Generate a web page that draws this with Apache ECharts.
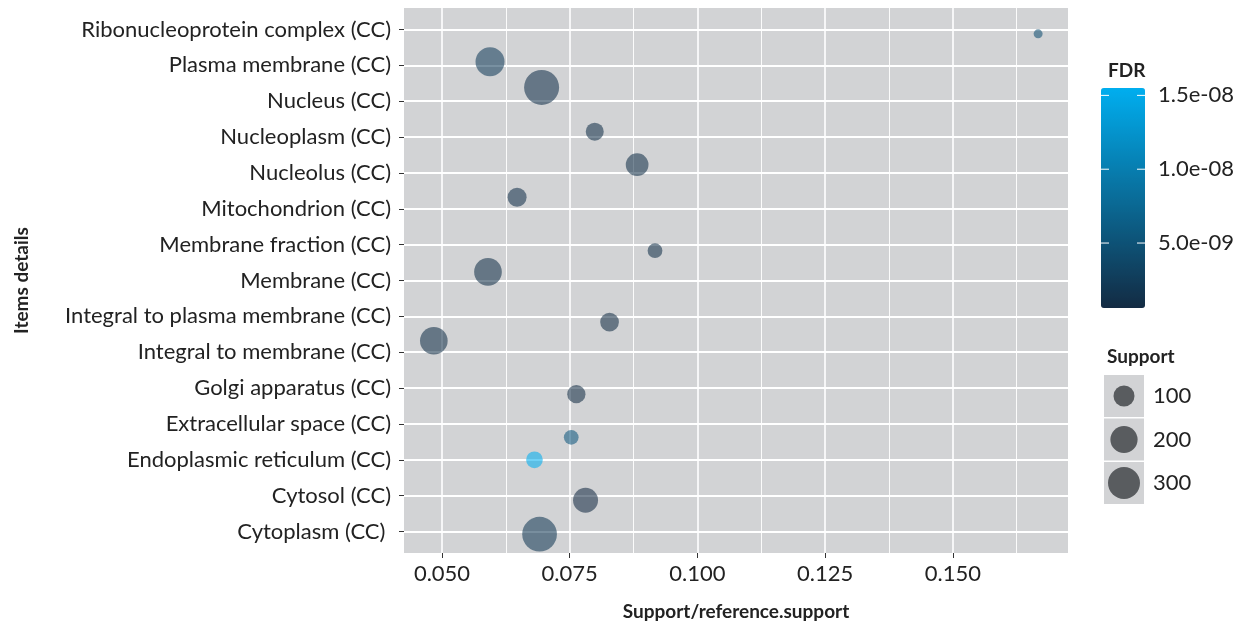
<!DOCTYPE html>
<html>
<head>
<meta charset="utf-8">
<script src="https://cdn.jsdelivr.net/npm/echarts@6/dist/echarts.min.js"></script>
<style>
  html, body { margin: 0; padding: 0; background: #fff; }
  #main { width: 1235px; height: 626px; }
</style>
</head>
<body>
<div id="main"></div>
<script>
// categories, bottom to top
const categories = [
    'Cytoplasm (CC) ', 'Cytosol (CC)', 'Endoplasmic reticulum (CC)', 'Extracellular space (CC)',
    'Golgi apparatus (CC)', 'Integral to membrane (CC)', 'Integral to plasma membrane (CC)',
    'Membrane (CC)', 'Membrane fraction (CC)', 'Mitochondrion (CC)', 'Nucleolus (CC)',
    'Nucleoplasm (CC)', 'Nucleus (CC)', 'Plasma membrane (CC)', 'Ribonucleoprotein complex (CC)'
]
// support / reference.support
const ratio = [0.0691, 0.0781, 0.0681, 0.0753, 0.0763, 0.0484, 0.0828, 0.0590, 0.0917, 0.0647, 0.0882, 0.0799, 0.0695, 0.0594, 0.1667]
// vertical jitter of each point (category units)
const jitter = [-0.075, -0.13, 0.0, -0.375, -0.17, 0.32, -0.16, 0.24, -0.17, 0.32, 0.23, 0.15, 0.385, 0.10, -0.12]
const support = [366, 160, 51, 34, 67, 209, 72, 209, 34, 75, 124, 64, 374, 235, 4]
const fdr = [2.2e-9, 0.6e-9, 1.55e-8, 5.5e-9, 0.8e-9, 1.0e-9, 0.8e-9, 1.0e-9, 1.0e-9, 1.2e-9, 1.0e-9, 1.0e-9, 1.2e-9, 2.5e-9, 4.5e-9]

const xTicks = [0.05, 0.075, 0.1, 0.125, 0.15]
const xMinorTicks = [0.0625, 0.0875, 0.1125, 0.1375, 0.1625]
const fdrTicks = [5e-9, 1e-8, 1.5e-8]
const fdrTickLabels = ['5.0e-09', '1.0e-08', '1.5e-08']
const sizeKeys = [100, 200, 300]

const FONT = 'Lato'
const TXT = '#222'
const fdrMin = 0.6e-9, fdrMax = 1.55e-8
const barLeft = 1101, barTop = 88, barW = 44, barH = 220

function sizeOf(s) {
    return 6 + 1.5 * Math.sqrt(s)
}

let chart = echarts.init(document.getElementById('main'))

let data = categories.map((c, i) => [ratio[i], i + 1 + jitter[i], support[i], fdr[i], c])
let yValues = categories.map((c, i) => i + 1)

// colourbar ticks + labels
let legendGraphics = []
legendGraphics.push({
    type: 'text', x: 1108, y: 71,
    style: {text: 'FDR', font: 'bold 19px ' + FONT, fill: TXT, verticalAlign: 'middle'}
})
fdrTicks.forEach((v, i) => {
    let y = barTop + barH - (v - fdrMin) / (fdrMax - fdrMin) * barH
    legendGraphics.push({type: 'line', shape: {x1: barLeft, y1: y, x2: barLeft + 8, y2: y}, style: {stroke: '#fff', lineWidth: 1}, z: 100})
    legendGraphics.push({type: 'line', shape: {x1: barLeft + barW - 8, y1: y, x2: barLeft + barW, y2: y}, style: {stroke: '#fff', lineWidth: 1}, z: 100})
    legendGraphics.push({
        type: 'text', x: 1158, y: y,
        style: {text: fdrTickLabels[i], font: '22px ' + FONT, fill: TXT, verticalAlign: 'middle'}
    })
})

// size legend
legendGraphics.push({
    type: 'text', x: 1107, y: 357,
    style: {text: 'Support', font: 'bold 19px ' + FONT, fill: TXT, verticalAlign: 'middle'}
})
sizeKeys.forEach((k, i) => {
    let top = 375 + i * 43.5
    legendGraphics.push({type: 'rect', shape: {x: 1104, y: top, width: 40, height: 42}, style: {fill: '#d2d3d5'}})
    legendGraphics.push({type: 'circle', shape: {cx: 1124, cy: top + 21, r: sizeOf(k) / 2}, style: {fill: '#595c5f'}})
    legendGraphics.push({
        type: 'text', x: 1153, y: top + 21,
        style: {text: String(k), font: '22px ' + FONT, fill: TXT, verticalAlign: 'middle'}
    })
})

chart.setOption({
    animation: false,
    textStyle: {fontFamily: FONT},
    grid: {
        show: true,
        left: 404, right: 167, top: 8, bottom: 73,
        backgroundColor: '#d2d3d5',
        borderWidth: 0
    },
    xAxis: [{
        type: 'value',
        min: 0.04256, max: 0.17255,
        name: 'Support/reference.support',
        nameLocation: 'middle',
        nameGap: 49,
        nameTextStyle: {fontSize: 19, fontWeight: 'bold', color: TXT, fontFamily: FONT},
        axisLine: {show: false},
        axisTick: {show: true, length: 5, customValues: xTicks, lineStyle: {color: '#333'}},
        axisLabel: {customValues: xTicks, fontSize: 22, color: TXT, margin: 10, formatter: v => v.toFixed(3)},
        splitLine: {show: true, lineStyle: {color: '#fff', width: 1.6}}
    }, {
        type: 'value',
        min: 0.04256, max: 0.17255,
        axisLine: {show: false},
        axisTick: {show: false, customValues: xMinorTicks},
        axisLabel: {show: false, customValues: xMinorTicks},
        splitLine: {show: true, lineStyle: {color: '#fff', width: 0.9}}
    }],
    yAxis: {
        type: 'value',
        min: 0.4, max: 15.6,
        name: 'Items details',
        nameLocation: 'middle',
        nameRotate: 90,
        nameGap: 373,
        nameTextStyle: {fontSize: 19, fontWeight: 'bold', color: TXT, fontFamily: FONT},
        axisLine: {show: false},
        axisTick: {show: true, length: 5, customValues: yValues, lineStyle: {color: '#333'}},
        axisLabel: {
            customValues: yValues, fontSize: 22, color: TXT, margin: 13,
            formatter: v => categories[Math.round(v) - 1] || ''
        },
        splitLine: {show: true, lineStyle: {color: '#fff', width: 1.8}}
    },
    visualMap: {
        type: 'continuous',
        seriesIndex: 0,
        dimension: 3,
        min: fdrMin, max: fdrMax,
        left: barLeft, top: barTop,
        itemWidth: barW, itemHeight: barH,
        padding: 0,
        calculable: false,
        inRange: {color: ['#132B43', '#00AEEF']}
    },
    graphic: legendGraphics,
    series: [{
        type: 'scatter',
        data: data,
        symbolSize: val => sizeOf(val[2]),
        itemStyle: {opacity: 0.57}
    }]
})
</script>
</body>
</html>
